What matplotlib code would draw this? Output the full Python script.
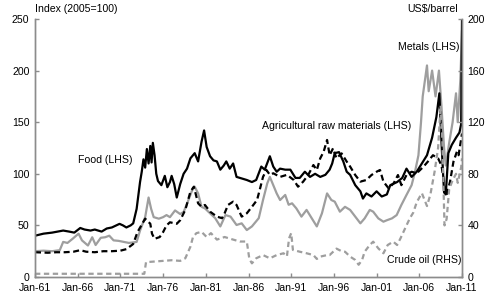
import matplotlib
matplotlib.use('Agg')
import matplotlib.pyplot as plt

plt.rcParams['font.family'] = ['Liberation Sans', 'DejaVu Sans']
plt.rcParams['font.size'] = 7.6

# Commodity price indices (decimal years)
food_year = [1961.0, 1962.0, 1963.0, 1964.3, 1965.0, 1965.6, 1966.3, 1966.8, 1967.5, 1968.0,
             1968.8, 1969.4, 1970.0, 1970.9, 1971.3, 1971.7, 1972.2, 1972.5, 1972.9, 1973.3,
             1973.5, 1973.7, 1973.9, 1974.1, 1974.3, 1974.5, 1974.65, 1974.8, 1975.0, 1975.2,
             1975.4, 1975.8, 1976.2, 1976.5, 1976.8, 1977.0, 1977.3, 1977.6, 1978.0, 1978.4,
             1978.8, 1979.2, 1979.7, 1980.1, 1980.5, 1980.8, 1981.1, 1981.5, 1981.9, 1982.3,
             1982.7, 1983.1, 1983.4, 1983.8, 1984.2, 1984.6, 1985.0, 1985.4, 1985.8, 1986.4,
             1986.9, 1987.5, 1987.9, 1988.5, 1988.9, 1989.3, 1989.7, 1990.3, 1990.9, 1991.5,
             1992.0, 1992.6, 1993.2, 1993.8, 1994.4, 1995.0, 1995.5, 1995.8, 1996.1, 1996.6,
             1997.1, 1997.5, 1997.9, 1998.5, 1999.1, 1999.4, 1999.8, 2000.4, 2001.0, 2001.6,
             2002.2, 2002.6, 2003.4, 2004.0, 2004.5, 2005.1, 2005.7, 2006.3, 2006.9, 2007.5,
             2008.0, 2008.35, 2008.6, 2008.9, 2009.1, 2009.4, 2009.8, 2010.3, 2010.7, 2010.9,
             2011.0]
food_idx = [40, 42, 43, 45, 44, 43, 47.5, 46, 45, 46,
            44, 47, 48, 51.5, 50, 48, 50, 52, 66, 92,
            102, 114, 106, 124, 110, 127, 111, 130, 118, 100,
            93, 89, 98, 87, 92, 98, 90, 77, 90, 100,
            105, 115, 120, 112, 131, 142, 126, 117, 113, 112,
            104, 108, 112, 105, 110, 97, 96, 95, 94, 92,
            94, 107, 104, 117, 107, 102, 105, 104, 104, 96,
            96, 102, 97, 100, 97, 99, 104, 110, 120, 121,
            112, 102, 99, 89, 83, 76, 81, 78, 83, 78,
            80, 89, 92, 96, 105, 97, 102, 110, 118, 135,
            155, 178, 130, 82, 80, 120, 128, 135, 140, 148,
            250]

metals_year = [1961.0, 1962.0, 1963.0, 1963.9, 1964.3, 1964.8, 1965.4, 1966.1, 1966.5, 1967.2,
               1967.7, 1968.1, 1968.7, 1969.2, 1969.7, 1970.2, 1970.8, 1971.4, 1972.0, 1972.9,
               1973.3, 1973.9, 1974.3, 1974.6, 1974.9, 1975.5, 1976.0, 1976.4, 1976.8, 1977.4,
               1978.0, 1978.4, 1978.8, 1979.4, 1979.7, 1980.1, 1980.5, 1980.9, 1981.5, 1982.1,
               1982.7, 1983.3, 1983.9, 1984.6, 1985.2, 1985.8, 1986.4, 1987.2, 1987.7, 1988.2,
               1988.5, 1988.9, 1989.3, 1989.7, 1990.3, 1990.7, 1991.1, 1991.6, 1992.2, 1992.8,
               1993.4, 1994.0, 1994.6, 1995.2, 1995.7, 1996.1, 1996.7, 1997.3, 1997.9, 1998.5,
               1999.1, 1999.6, 2000.2, 2000.6, 2001.2, 2001.8, 2002.2, 2002.8, 2003.35, 2003.9,
               2004.5, 2005.1, 2005.5, 2005.9, 2006.2, 2006.4, 2006.9, 2007.1, 2007.5, 2007.9,
               2008.3, 2008.6, 2008.9, 2009.1, 2009.5, 2009.9, 2010.3, 2010.5, 2010.8, 2011.0]
metals_idx = [25, 25.5, 25, 26, 34, 33, 37, 42, 35.5, 30.5,
              38.5, 31, 38, 38.5, 40, 35.5, 35, 34, 33, 34,
              45, 58, 77, 66, 58, 56.5, 58, 60, 58, 64.5,
              61, 63, 71, 84, 87.5, 81, 68, 66.5, 61.7, 57,
              49, 60, 58.5, 50.4, 52, 45.5, 49, 57, 74.6, 90.8,
              97, 89, 81, 74.6, 79.5, 70, 71.4, 66.5, 58.5, 65,
              57, 49, 61.7, 81, 74.6, 73, 63.3, 68, 65, 58.5,
              52, 56.8, 65, 63.3, 56.8, 53.6, 55, 56.8, 60, 69.8,
              79.5, 89, 102, 118, 150, 175, 205, 180, 200, 175,
              200, 165, 125, 108, 130, 150, 178, 150, 190, 238]

agri_year = [1961.0, 1962.5, 1963.5, 1964.5, 1965.5, 1966.3, 1967.0, 1968.0, 1969.0, 1970.0,
             1971.0, 1971.7, 1972.5, 1973.0, 1973.9, 1974.5, 1974.7, 1975.0, 1975.6, 1976.0,
             1976.4, 1976.8, 1977.6, 1978.0, 1978.6, 1979.2, 1979.6, 1980.1, 1980.5, 1980.9,
             1981.5, 1982.3, 1982.9, 1983.2, 1983.6, 1984.2, 1984.6, 1985.2, 1985.8, 1986.4,
             1987.0, 1987.3, 1987.7, 1988.1, 1988.5, 1988.9, 1989.7, 1990.5, 1991.3, 1991.8,
             1992.4, 1993.0, 1993.6, 1994.0, 1994.4, 1994.8, 1995.2, 1995.5, 1995.9, 1996.3,
             1996.9, 1997.5, 1997.9, 1998.5, 1999.1, 1999.8, 2000.4, 2001.0, 2001.4, 2001.8,
             2002.4, 2003.0, 2003.5, 2003.9, 2004.5, 2005.1, 2005.7, 2006.5, 2007.0, 2007.6,
             2008.2, 2008.6, 2009.0, 2009.2, 2009.6, 2010.0, 2010.4, 2010.6, 2011.0]
agri_idx = [24, 23.5, 24, 24, 24.5, 26, 24.5, 24, 25, 25,
            25.5, 27, 32, 43.5, 56.5, 51.6, 42, 37, 38.7, 43.5,
            50, 53, 51.6, 55, 65, 82.7, 87.5, 71.4, 68, 69.8,
            63.3, 58.5, 57, 61.7, 69.8, 73, 69.8, 58.5, 61.7, 68,
            74.6, 84, 97, 103.7, 99, 100.5, 97, 99, 94, 87.5,
            92.4, 99, 108.5, 103.7, 115, 121.4, 132.8, 118, 124.7, 115,
            119.8, 111.8, 107, 98.8, 92.4, 94, 98.8, 102, 103.7, 92.4,
            86, 90.8, 98.8, 89, 98.8, 102, 100.5, 107, 111.8, 118,
            115, 108, 86, 79.5, 92.4, 111.8, 121.4, 118, 139]

# Crude oil, US$/barrel (right-hand scale)
oil_year = [1961.0, 1973.8, 1974.0, 1975.0, 1976.0, 1977.0, 1978.0, 1978.6, 1979.2, 1979.5,
            1979.9, 1980.5, 1981.1, 1981.6, 1982.3, 1983.2, 1984.2, 1985.0, 1985.8, 1986.1,
            1986.4, 1986.9, 1987.7, 1988.5, 1989.3, 1990.1, 1990.5, 1990.75, 1991.0, 1991.2,
            1992.0, 1992.8, 1993.6, 1994.0, 1994.4, 1995.2, 1995.5, 1996.3, 1996.9, 1997.3,
            1997.9, 1998.5, 1998.9, 1999.3, 1999.6, 2000.2, 2000.6, 2001.2, 2001.8, 2002.3,
            2002.95, 2003.4, 2003.8, 2004.5, 2004.9, 2005.3, 2005.7, 2006.3, 2006.9, 2007.3,
            2007.8, 2008.2, 2008.5, 2008.7, 2008.95, 2009.2, 2009.5, 2009.9, 2010.3, 2010.5,
            2010.9, 2011.0]
oil_usd = [2.5, 2.5, 11.5, 12, 12.5, 13, 12.5, 14.5, 23.5, 31,
           34, 35, 31, 34, 29, 31, 29, 27.5, 27.5, 14,
           10.6, 14.5, 17, 14.5, 17, 18.4, 16, 30, 34, 21,
           19.6, 18.4, 17, 14, 15.8, 17, 17, 22, 20, 19.6,
           15.8, 13.2, 9.5, 13.2, 19.6, 24.8, 27.4, 22.2, 18.4, 24.8,
           27.4, 24.8, 30, 40, 45.6, 50, 58, 65, 55, 64,
           82, 100, 133, 105, 40, 45, 68, 75, 80, 73,
           85, 92]

tick_years = [1961, 1966, 1971, 1976, 1981, 1986, 1991, 1996, 2001, 2006, 2011]
tick_labels = ['Jan-61', 'Jan-66', 'Jan-71', 'Jan-76', 'Jan-81', 'Jan-86',
               'Jan-91', 'Jan-96', 'Jan-01', 'Jan-06', 'Jan-11']

black = '#000000'
grey = '#9e9e9e'
axis_grey = '#8c8c8c'

fig = plt.figure(figsize=(4.91, 3.02), dpi=100)
ax = fig.add_axes([35/491, 1 - 277/302, (462 - 35)/491, (277 - 19)/302])
ax2 = ax.twinx()

ax.plot(metals_year, metals_idx, color=grey, lw=1.6)
ax.plot(agri_year, agri_idx, color=black, lw=1.6, dashes=(2.7, 1.6))
ax.plot(food_year, food_idx, color=black, lw=1.6)
ax2.plot(oil_year, oil_usd, color=grey, lw=1.6, dashes=(2.4, 1.6))

ax.set_xlim(1961, 2011)
ax.set_ylim(0, 250)
ax2.set_ylim(0, 200)
ax.set_yticks([0, 50, 100, 150, 200, 250])
ax2.set_yticks([0, 40, 80, 120, 160, 200])
ax.set_xticks(tick_years)
ax.set_xticklabels(tick_labels)

for a in (ax, ax2):
    a.spines['top'].set_visible(False)
    for s in ('left', 'right', 'bottom'):
        a.spines[s].set_color(axis_grey)
        a.spines[s].set_linewidth(1.0)
    a.tick_params(direction='in', length=3, width=1, color=axis_grey, labelsize=7.6, pad=4)

fig.text(35/491, 1 - 9/302, 'Index (2005=100)', ha='left', va='center', fontsize=7.6)
fig.text(458/491, 1 - 9/302, 'US$/barrel', ha='right', va='center', fontsize=7.6)

ax.text(1966.0, 113, 'Food (LHS)', ha='left', va='center', fontsize=7.6)
ax.text(1987.6, 146, 'Agricultural raw materials (LHS)', ha='left', va='center', fontsize=7.6)
ax.text(2010.7, 223, 'Metals (LHS)', ha='right', va='center', fontsize=7.6)
ax2.text(2010.9, 13, 'Crude oil (RHS)', ha='right', va='center', fontsize=7.6)

fig.savefig('out.png', dpi=100)
